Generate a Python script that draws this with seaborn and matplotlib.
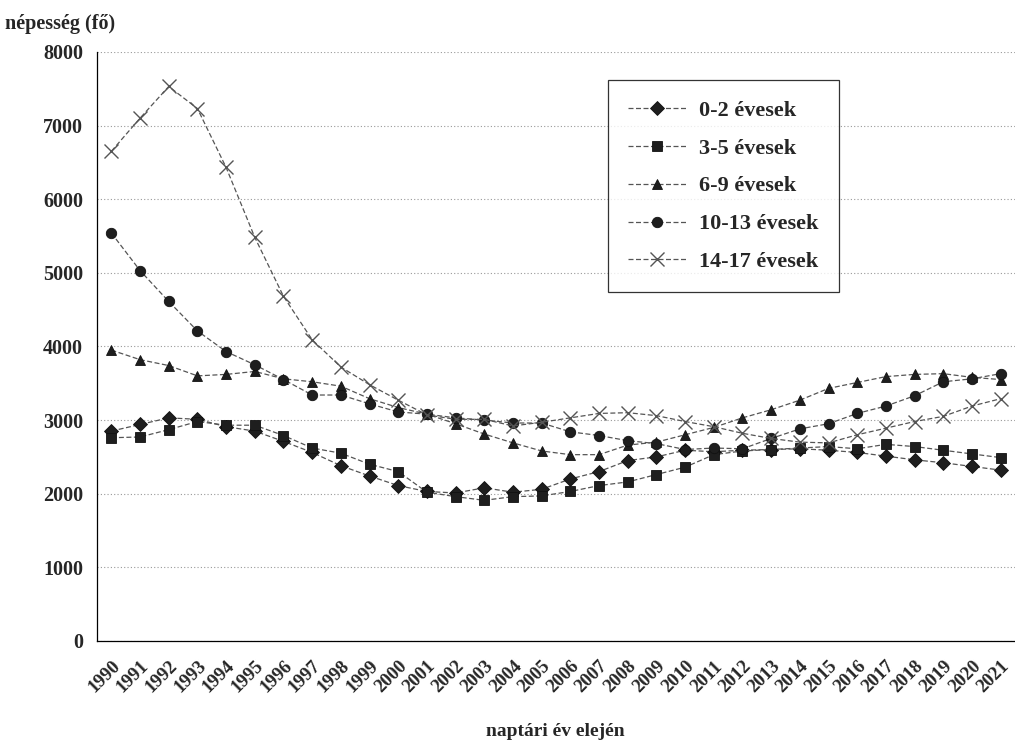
import numpy as np
import pandas as pd
import matplotlib
matplotlib.use("Agg")
import matplotlib.pyplot as plt
import seaborn as sns

years = list(range(1990, 2022))

# népesség korcsoportonként (fő)
age_0_2 = [2850, 2940, 3030, 3010, 2910, 2850, 2710, 2560, 2380, 2240, 2110, 2030, 2010,
           2080, 2020, 2060, 2200, 2300, 2450, 2500, 2590, 2570, 2590, 2600, 2610, 2590,
           2560, 2510, 2460, 2420, 2370, 2320]
age_3_5 = [2760, 2770, 2870, 2980, 2930, 2930, 2790, 2620, 2550, 2400, 2300, 2020, 1960,
           1910, 1960, 1970, 2030, 2110, 2160, 2260, 2360, 2530, 2580, 2600, 2620, 2640,
           2610, 2670, 2640, 2590, 2540, 2490]
age_6_9 = [3950, 3820, 3740, 3600, 3620, 3660, 3560, 3520, 3460, 3290, 3170, 3080, 2950,
           2810, 2690, 2580, 2530, 2530, 2660, 2700, 2800, 2900, 3030, 3140, 3270, 3430,
           3510, 3590, 3620, 3630, 3580, 3550]
age_10_13 = [5540, 5030, 4610, 4210, 3930, 3750, 3550, 3340, 3340, 3220, 3110, 3080, 3030,
             3000, 2960, 2960, 2840, 2790, 2720, 2680, 2600, 2620, 2610, 2750, 2880, 2950,
             3090, 3190, 3330, 3520, 3560, 3630]
age_14_17 = [6650, 7100, 7530, 7230, 6430, 5480, 4680, 4090, 3720, 3480, 3270, 3070, 3010,
             3010, 2920, 2970, 3030, 3090, 3100, 3060, 2980, 2910, 2820, 2750, 2700, 2690,
             2800, 2890, 2980, 3050, 3190, 3290]

series_names = ["0-2 évesek", "3-5 évesek", "6-9 évesek", "10-13 évesek", "14-17 évesek"]
series_values = [age_0_2, age_3_5, age_6_9, age_10_13, age_14_17]
series_markers = ["D", "s", "^", "o", "x"]

sns.set_style("white")
plt.rcParams["font.family"] = ["Liberation Serif", "DejaVu Serif"]
plt.rcParams["font.weight"] = "bold"

fig = plt.figure(figsize=(10.15, 7.41), dpi=100)
ax = fig.add_axes([0.0956, 0.135, 0.9044, 0.795])

pos = np.arange(len(years))
for name, vals, mk in zip(series_names, series_values, series_markers):
    df = pd.DataFrame({"pos": pos, "value": vals})
    if mk == "x":
        kw = dict(markersize=10, markeredgewidth=1.0, markeredgecolor="#555555")
    else:
        kw = dict(markersize=7.5, markeredgewidth=0.6, markeredgecolor="#111111",
                  markerfacecolor="#1e1e1e")
    sns.lineplot(data=df, x="pos", y="value", ax=ax, marker=mk, color="#555555",
                 linewidth=0.9, linestyle=(0, (4, 2)), label=name, **kw)

ax.set_ylim(0, 8000)
ax.set_xlim(-0.5, 31.26)
ax.set_yticks(range(0, 8001, 1000))
ax.set_yticklabels([str(v) for v in range(0, 8001, 1000)], fontsize=14.5, fontweight="bold")
ax.set_xticks(pos)
ax.set_xticklabels([str(y) for y in years], rotation=45, ha="right",
                   rotation_mode="anchor", fontsize=13.5, fontweight="bold")
ax.set_xticks(np.arange(-0.5, len(years), 1), minor=True)
ax.tick_params(axis="x", which="major", length=0, pad=12)
ax.tick_params(axis="x", which="minor", length=5, width=0.8, color="black", direction="out")
ax.tick_params(axis="y", length=5, width=0.8, color="black", direction="out", pad=5)

ax.grid(axis="y", color="#999999", linestyle=(0, (1, 2)), linewidth=0.8)
ax.grid(axis="x", visible=False)
for side in ["top", "right"]:
    ax.spines[side].set_visible(False)
for side in ["left", "bottom"]:
    ax.spines[side].set_color("black")
    ax.spines[side].set_linewidth(0.9)

ax.set_xlabel("")
ax.set_ylabel("")
fig.text(0.005, 0.968, "népesség (fő)", fontsize=14.5, fontweight="bold", ha="left", va="center")
fig.text(0.547, 0.013, "naptári év elején", fontsize=14, fontweight="bold", ha="center",
         va="center")

leg = ax.legend(loc="upper left", bbox_to_anchor=(0.557, 0.952), borderaxespad=0,
                frameon=True, fancybox=False, edgecolor="black", labelspacing=0.78,
                handlelength=2.6, handletextpad=0.6, borderpad=0.9,
                prop={"size": 16, "weight": "bold"})
leg.get_frame().set_linewidth(0.9)

fig.savefig("out.png", dpi=100)
